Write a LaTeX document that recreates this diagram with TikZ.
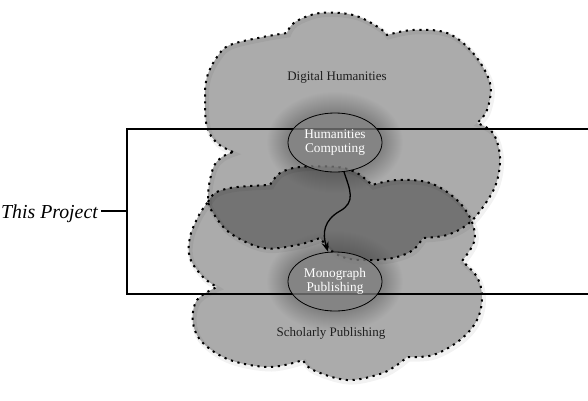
\documentclass[tikz,border=0pt]{standalone}
\usepackage{fontspec}
\setmainfont{Liberation Serif}
\usetikzlibrary{arrows.meta,shapes.geometric}
\begin{document}
\begin{tikzpicture}[x=1pt,y=-1pt,
  cloudshape/.style={fill=black, fill opacity=0.33, draw=black, draw opacity=1,
    line width=2pt, dash pattern=on 2.2pt off 4.6pt},
  cloudhalo/.style={draw=black, draw opacity=0.05, line width=5pt},
  bracketline/.style={draw=black, line width=1.2pt},
  ell/.style={ellipse, draw=black, line width=0.8pt, fill=black!47, fill opacity=0.7,
    text opacity=1, text=white, minimum width=94pt, minimum height=59pt, inner sep=0pt,
    align=center, font=\fontsize{13.3}{14}\selectfont},
  lbl/.style={text=black!88, font=\fontsize{13}{14}\selectfont, inner sep=1pt},
  proj/.style={font=\fontsize{19.8}{22}\selectfont\itshape, inner sep=3pt},
  glow/.style={fill=black, opacity=0.011}]
\useasboundingbox (0,0) rectangle (588,400);
\def\bottomcloud{
  plot[smooth,tension=0.6] coordinates {(208,202) (215,193) (230,188) (250,186) (270,185)}
  -- plot[smooth,tension=0.6] coordinates {(270,185) (280,173) (300,167) (337,167) (357,173) (372,185)}
  -- plot[smooth,tension=0.6] coordinates {(372,185) (397,180) (430,183) (457,200) (472,222) (474,242) (462,261)}
  -- plot[smooth,tension=0.6] coordinates {(462,261) (477,277) (482,297) (477,320) (460,340) (433,355) (407,357)}
  -- plot[smooth,tension=0.6] coordinates {(407,357) (397,365) (380,374) (347,380) (313,370) (303,360)}
  -- plot[smooth,tension=0.6] coordinates {(303,360) (270,367) (230,360) (203,343) (193,323) (197,300) (217,287)}
  -- plot[smooth,tension=0.6] coordinates {(217,287) (203,277) (190,258) (190,237) (199,215) (208,202)}
  -- cycle}
\def\topcloud{
  plot[smooth,tension=0.6] coordinates {(233,152) (217,143) (207,127) (205,100) (207,77) (217,57) (230,45) (263,37) (287,33)}
  -- plot[smooth,tension=0.6] coordinates {(287,33) (295,22) (320,13) (353,15) (378,27) (387,35)}
  -- plot[smooth,tension=0.6] coordinates {(387,35) (413,30) (447,33) (473,53) (490,83) (487,110) (477,123)}
  -- plot[smooth,tension=0.6] coordinates {(477,123) (493,133) (500,157) (496,184) (483,207) (468,224) (447,235) (423,238)}
  -- plot[smooth,tension=0.6] coordinates {(423,238) (413,250) (397,257) (377,260) (350,259) (333,252) (320,238)}
  -- plot[smooth,tension=0.6] coordinates {(320,238) (297,245) (263,248) (230,233) (213,213) (208,202)}
  -- plot[smooth,tension=0.6] coordinates {(208,202) (209,185) (214,166) (222,157) (233,152)}
  -- cycle}
% soft halos
\begin{scope}[shift={(1.5,2)}]
  \path[cloudhalo] \bottomcloud;
  \path[cloudhalo] \topcloud;
\end{scope}
% clouds
\path[cloudshape] \bottomcloud;
\path[cloudshape] \topcloud;
% glows around the two ellipses
\coordinate (hcc) at (335,142.5);
\coordinate (mpc) at (335,281.5);
\foreach \r in {1,2,...,22} {
  \fill[glow] (hcc) ellipse [x radius={46pt+\r*1pt}, y radius={28.5pt+\r*1pt}];
  \fill[glow] (mpc) ellipse [x radius={46pt+\r*1pt}, y radius={28.5pt+\r*1pt}];
}
% bracket
\coordinate (tl) at (127,129);
\coordinate (tr) at (588,129);
\coordinate (bl) at (127,294);
\coordinate (br) at (588,294);
\coordinate (mid) at (127,211);
\draw[bracketline] (tr) -- (tl) -- (bl) -- (br);
\node[proj, anchor=base east] (proj) at (101,218) {This Project};
\draw[bracketline] (proj.east |- mid) -- (mid);
% ellipses
\node[ell] (hc) at (hcc) {Humanities\\Computing};
\node[ell] (mp) at (mpc) {Monograph\\Publishing};
% labels
\node[lbl] (dh) at (337,77) {Digital Humanities};
\node[lbl] (sp) at (331,333) {Scholarly Publishing};
% arrow
\draw[line width=1.3pt, -{Stealth[length=10pt,width=7pt]}]
  (hc.-73) .. controls (350,190) and (356,202) .. (340,211)
  .. controls (324,220) and (322,233) .. (mp.103);
\end{tikzpicture}
\end{document}
